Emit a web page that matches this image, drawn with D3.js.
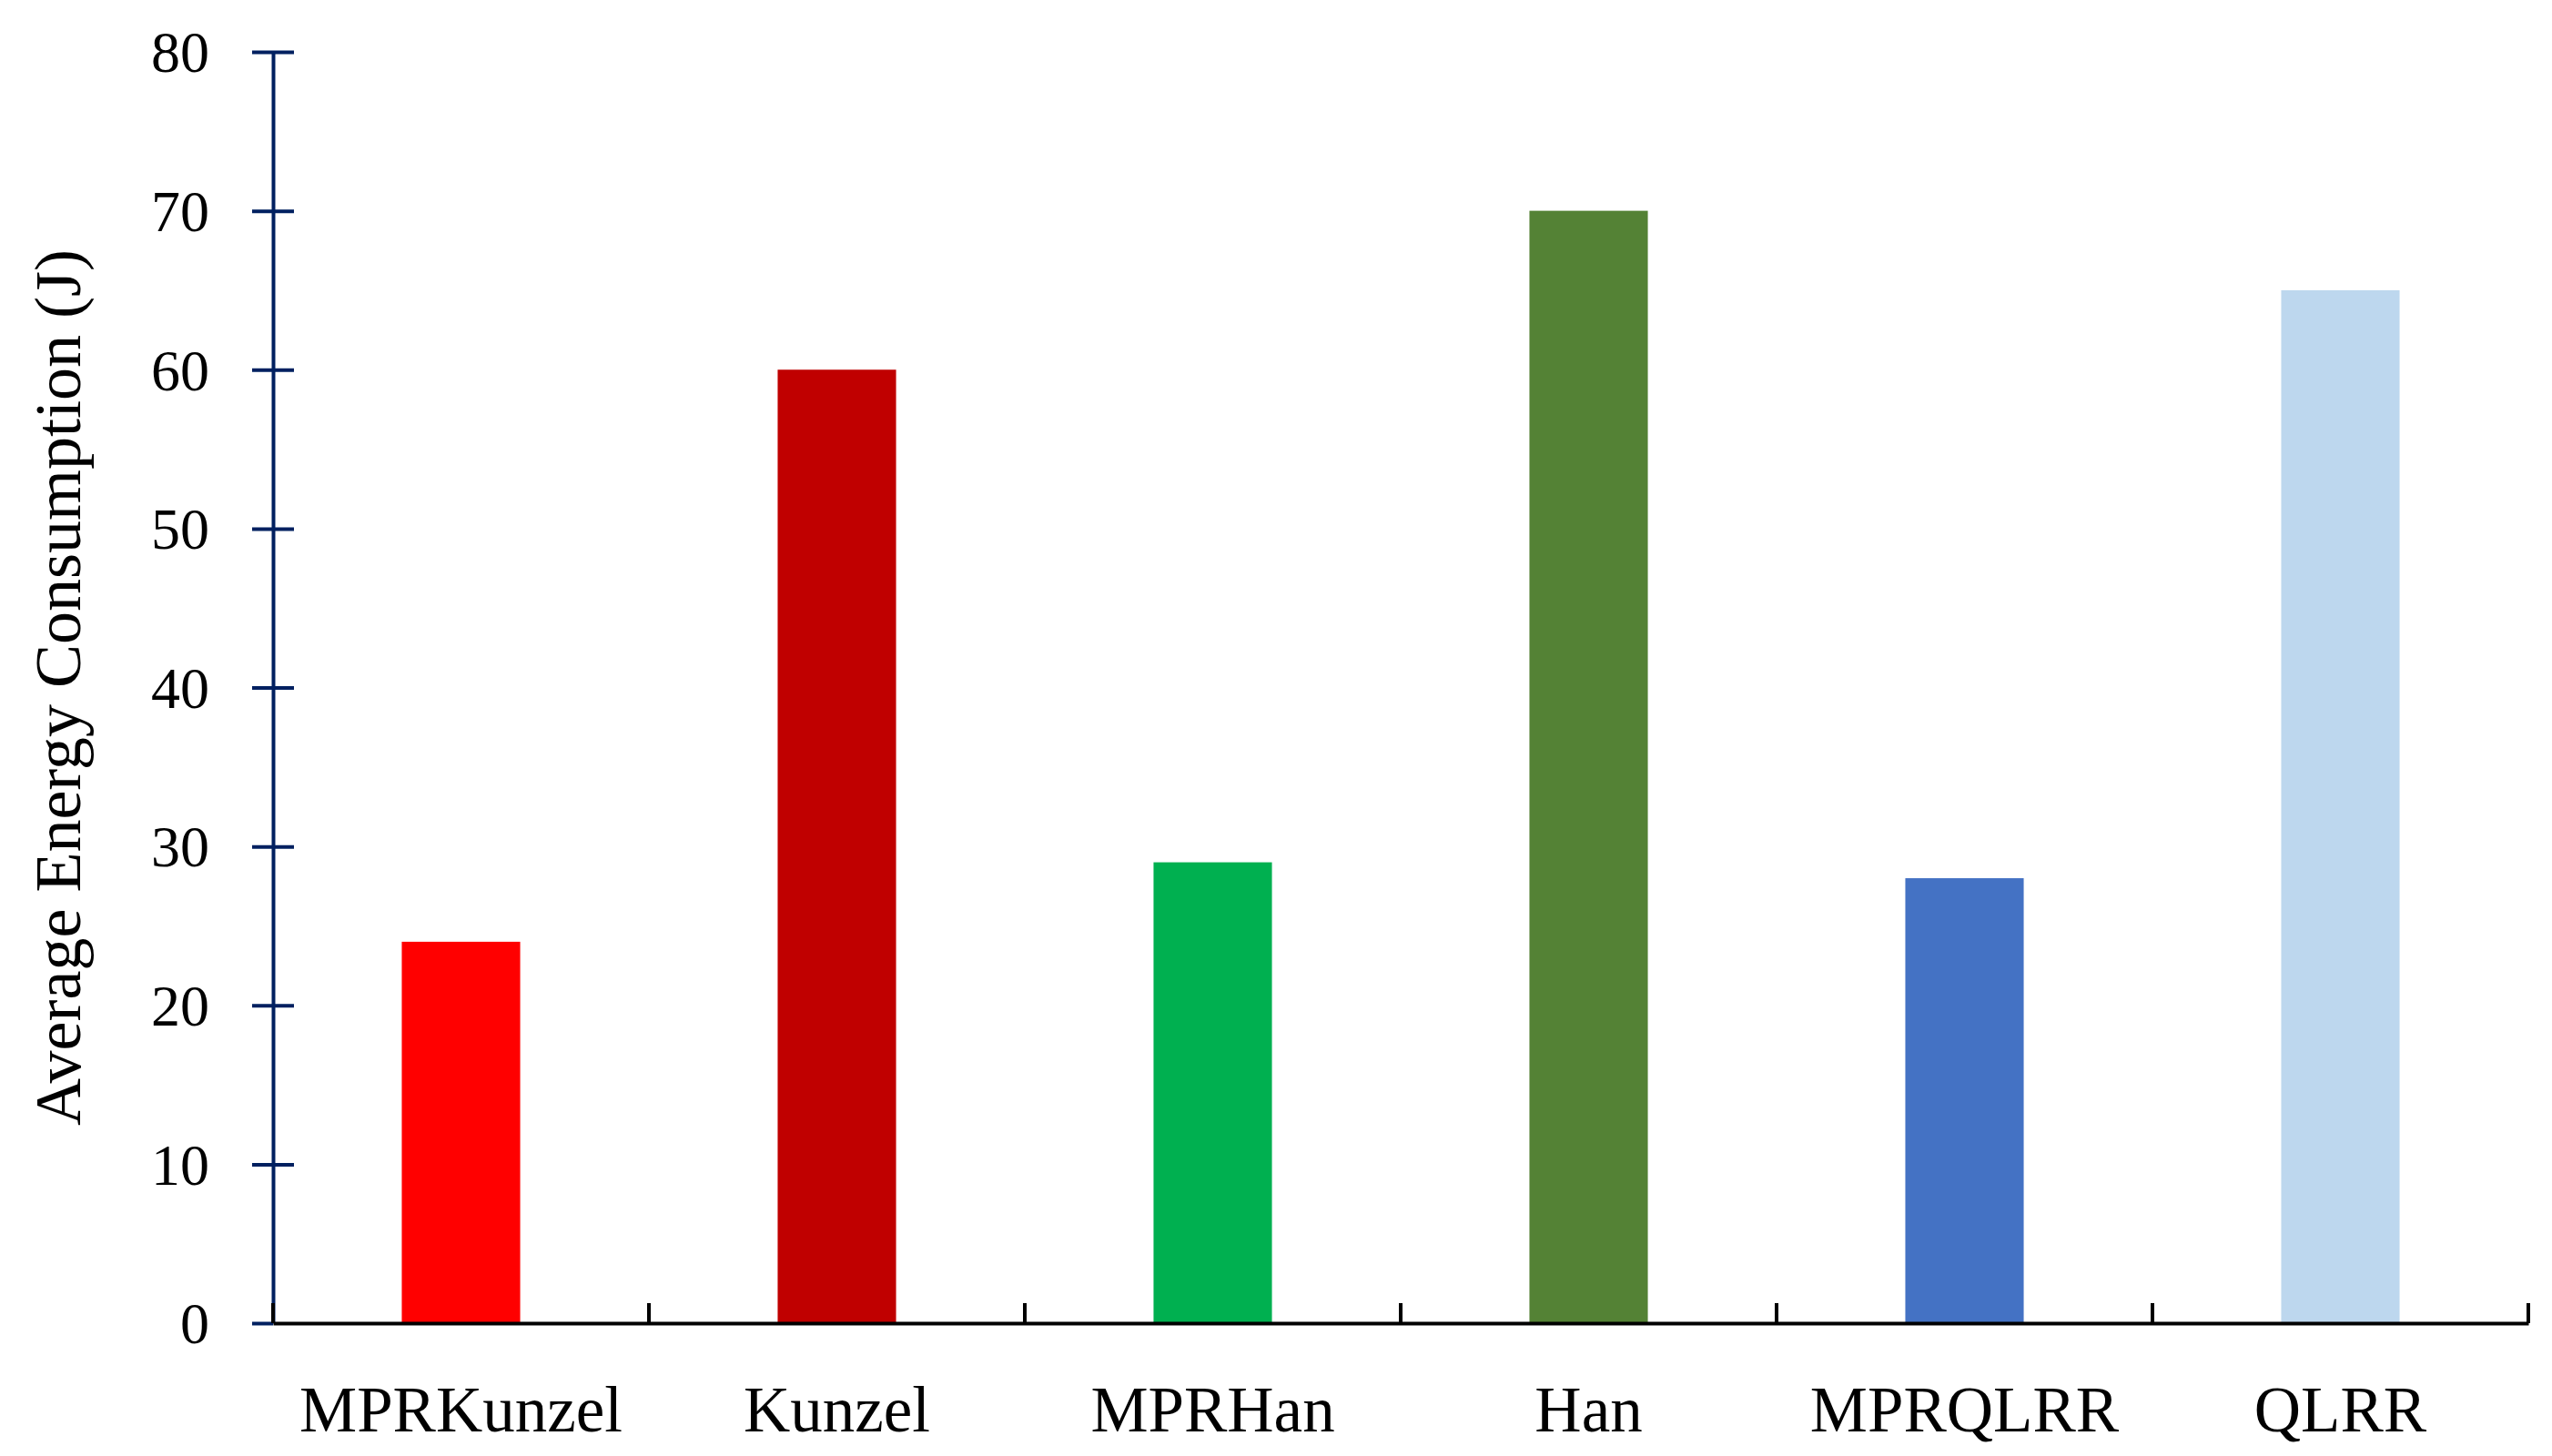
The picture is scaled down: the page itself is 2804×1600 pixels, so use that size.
<!DOCTYPE html>
<html>
<head>
<meta charset="utf-8">
<script src="https://cdn.jsdelivr.net/npm/d3@7"></script>
<style>
  html, body { margin: 0; padding: 0; background: #ffffff; }
  svg { display: block; }
</style>
</head>
<body>
<svg id="chart" width="2804" height="1600"></svg>
<script>
const categories = ["MPRKunzel", "Kunzel", "MPRHan", "Han", "MPRQLRR", "QLRR"];
const values = [24, 60, 29, 70, 28, 65];
const barColors = ["#FF0000", "#C00000", "#00B050", "#548235", "#4472C4", "#BDD7EE"];
const yTicks = [0, 10, 20, 30, 40, 50, 60, 70, 80];
const yTitle = "Average Energy Consumption (J)";

(function () {
const svg = d3.select("#chart");
const mLeft = 300, mRight = 2778, mTop = 57, mBottom = 1454;
const font = "'Liberation Serif', 'Times New Roman', serif";

const x = d3.scaleBand().domain(categories).range([mLeft, mRight])
  .paddingInner(0.685).paddingOuter(0.3425);
const xb = d3.scaleBand().domain(categories).range([mLeft, mRight]).padding(0);
const y = d3.scaleLinear().domain([0, 80]).range([mBottom, mTop]);

// bars
svg.append("g").selectAll("rect").data(categories).join("rect")
  .attr("x", d => x(d))
  .attr("width", x.bandwidth())
  .attr("y", (d, i) => y(values[i]))
  .attr("height", (d, i) => y(0) - y(values[i]))
  .attr("fill", (d, i) => barColors[i]);

// y axis
const yAxis = d3.axisLeft(y).tickValues(yTicks).tickSizeInner(0).tickSizeOuter(0).tickPadding(70);
const gy = svg.append("g").attr("transform", `translate(${mLeft},0)`).call(yAxis);
gy.select(".domain").attr("stroke", "#002060").attr("stroke-width", 4);
gy.selectAll(".tick line").remove();
gy.selectAll(".tick").append("line")
  .attr("x1", -23).attr("x2", 23)
  .attr("stroke", "#002060").attr("stroke-width", 4);
gy.selectAll(".tick").filter(d => d === 0).select("line").attr("x2", 0);
gy.selectAll(".tick text")
  .attr("font-family", font).attr("font-size", 64).attr("fill", "#000")
  .attr("dy", "0.34em");

// x axis
const xAxis = d3.axisBottom(xb).tickSize(0).tickPadding(0);
const gx = svg.append("g").attr("transform", `translate(0,${mBottom})`).call(xAxis);
gx.select(".domain").attr("stroke", "#000").attr("stroke-width", 4);
gx.selectAll(".tick text")
  .attr("font-family", font).attr("font-size", 71).attr("fill", "#000")
  .attr("dy", 0).attr("y", 119);
// category boundary ticks (inward)
const bounds = categories.map(c => xb(c)).concat([mRight]);
gx.selectAll("line.bound").data(bounds).join("line")
  .attr("class", "bound")
  .attr("x1", d => d).attr("x2", d => d)
  .attr("y1", -22).attr("y2", 0)
  .attr("stroke", "#000").attr("stroke-width", 4);

// y title
svg.append("text")
  .attr("transform", `translate(88,${(mTop + mBottom) / 2}) rotate(-90)`)
  .attr("text-anchor", "middle")
  .attr("font-family", font).attr("font-size", 72).attr("fill", "#000")
  .text(yTitle);
})();
</script>
</body>
</html>
